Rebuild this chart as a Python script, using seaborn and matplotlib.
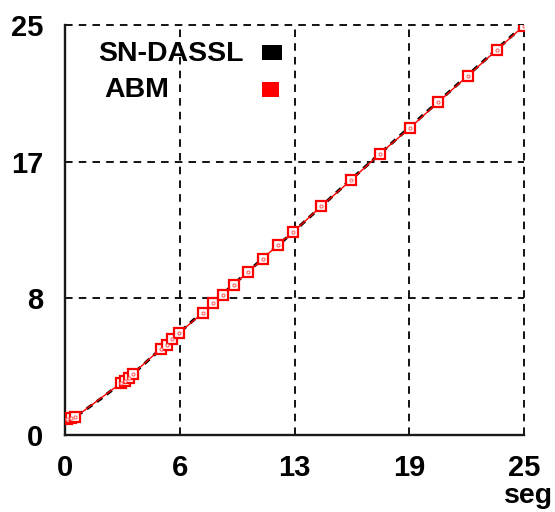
import matplotlib
matplotlib.use("Agg")
import matplotlib.pyplot as plt
import seaborn as sns
import pandas as pd
from matplotlib.patches import Rectangle

# Solution traces (time in seconds vs. state value)
dassl_t = [0.0, 0.5, 1.0, 2.0, 3.0, 4.0, 5.0, 6.0, 8.0, 10.0, 12.5, 15.0, 17.5, 20.0, 22.5, 25.0]
dassl_y = [1.0, 1.08, 1.45, 2.25, 3.12, 4.02, 5.03, 6.02, 8.0, 10.0, 12.45, 15.0, 17.5, 20.0, 22.5, 25.0]

abm_t = [0.12, 0.35, 0.55, 3.05, 3.27, 3.46, 3.69, 5.22, 5.54, 5.85, 6.20,
         7.50, 8.06, 8.60, 9.18, 9.95, 10.80, 11.59, 12.42,
         13.97, 15.59, 17.16, 18.80, 20.34, 21.95, 23.53, 25.0]
abm_y = [0.96, 1.02, 1.08, 3.16, 3.32, 3.50, 3.73, 5.26, 5.50, 5.85, 6.21,
         7.44, 8.05, 8.56, 9.17, 9.92, 10.76, 11.61, 12.37,
         13.96, 15.55, 17.16, 18.74, 20.31, 21.92, 23.49, 24.96]

x_ticks = [0, 6.25, 12.5, 18.75, 25]
x_labels = ["0", "6", "13", "19", "25"]
y_ticks = [0, 25 / 3, 50 / 3, 25]
y_labels = ["0", "8", "17", "25"]

series_names = ["SN-DASSL", "ABM"]
series_colors = ["#000000", "#ff0000"]

sns.set_theme(style="white")
plt.rcParams["font.family"] = ["Liberation Sans", "DejaVu Sans"]
plt.rcParams["font.weight"] = "bold"

W, H = 555, 512
fig = plt.figure(figsize=(W / 100, H / 100), dpi=100)
fig.patch.set_facecolor("white")
ax = fig.add_axes([65 / W, 77 / H, 459 / W, 410 / H])
ax.set_facecolor("white")

df_dassl = pd.DataFrame({"t": dassl_t, "y": dassl_y})
df_abm = pd.DataFrame({"t": abm_t, "y": abm_y})

sns.lineplot(data=df_dassl, x="t", y="y", ax=ax, color=series_colors[0],
             linewidth=2.2, estimator=None, sort=False, zorder=3)
ax.lines[-1].set_dashes((2.2, 1.8))
sns.lineplot(data=df_abm, x="t", y="y", ax=ax, color=series_colors[1],
             linewidth=1.0, estimator=None, sort=False, marker="s",
             markersize=7.6, markerfacecolor="white", markeredgecolor=series_colors[1],
             markeredgewidth=1.6, zorder=4)
# small dot in the centre of each square marker
ax.plot(abm_t, abm_y, linestyle="none", marker="o", markersize=2.2,
        markerfacecolor="white", markeredgecolor="#ff6666", markeredgewidth=0.8, zorder=5)

ax.set_xlim(0, 25)
ax.set_ylim(0, 25)
ax.set_xticks(x_ticks)
ax.set_xticklabels(x_labels)
ax.set_yticks(y_ticks)
ax.set_yticklabels(y_labels)
ax.set_xlabel("")
ax.set_ylabel("")

for s in ["top", "right"]:
    ax.spines[s].set_visible(False)
for s in ["left", "bottom"]:
    ax.spines[s].set_color("#1a1a1a")
    ax.spines[s].set_linewidth(1.7)

ax.tick_params(axis="both", direction="inout", length=11.5, width=1.5,
               color="#1a1a1a", labelsize=21, labelcolor="black")
ax.tick_params(axis="x", pad=8)
ax.tick_params(axis="y", pad=10)
for lab in ax.get_xticklabels() + ax.get_yticklabels():
    lab.set_fontweight("bold")

ax.grid(True, color="black", linestyle=(0, (4.2, 3.4)), linewidth=1.3)
ax.set_axisbelow(True)
for gl in ax.get_xgridlines() + ax.get_ygridlines():
    gl.set_clip_on(False)

# axis unit
fig.text(553 / W, 1 - 496 / H, "seg", ha="right", va="center",
         fontsize=20.5, fontweight="bold", color="black")

# legend block
ax.text((98 - 65) / 459, (435 - 54) / 410, series_names[0], transform=ax.transAxes,
        ha="left", va="center", fontsize=20.5, fontweight="bold", color="black")
ax.text((104 - 65) / 459, (435 - 90) / 410, series_names[1], transform=ax.transAxes,
        ha="left", va="center", fontsize=20.5, fontweight="bold", color="black")
ax.add_patch(Rectangle(((262 - 65) / 459, (435 - 60) / 410), 20 / 459, 15 / 410,
                       transform=ax.transAxes, facecolor=series_colors[0],
                       edgecolor="none", zorder=6))
ax.add_patch(Rectangle(((262 - 65) / 459, (435 - 97) / 410), 17 / 459, 15 / 410,
                       transform=ax.transAxes, facecolor=series_colors[1],
                       edgecolor="none", zorder=6))

fig.savefig("out.png", dpi=100, facecolor="white")
